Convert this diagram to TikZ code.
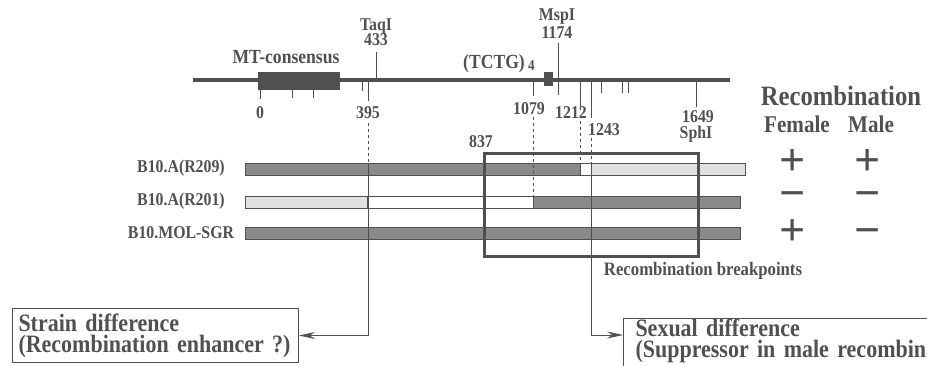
\documentclass[tikz,border=0pt]{standalone}
\usepackage{fontspec}
\setmainfont{Liberation Serif}[FakeStretch=0.88]
\newfontfamily\signfont{Liberation Serif}
\definecolor{ink}{RGB}{80, 80, 80}
\definecolor{barfill}{RGB}{138, 138, 138}
\definecolor{dotfill}{RGB}{224, 224, 224}
\usetikzlibrary{arrows.meta, positioning, calc}

\begin{document}
\begin{tikzpicture}[x=1pt, y=-1pt,
        every node/.style={text=ink, inner sep=0pt},
        site/.style={anchor=base, font=\fontsize{18}{18}\selectfont\bfseries},
        strainlbl/.style={anchor=base, font=\fontsize{18}{18}\selectfont\bfseries},
        head/.style={anchor=base, font=\fontsize{24}{24}\selectfont\bfseries},
        sign/.style={anchor=base, text height=20pt, text depth=0pt, font=\signfont\bfseries\fontsize{46}{46}\selectfont},
        tick/.style={ink, line width=1pt},
        guide/.style={ink, line width=0.8pt, dash pattern=on 3pt off 3pt},
        bar/.style={draw=ink, line width=1pt},
        note/.style={draw=ink, line width=1pt, align=left, inner xsep=6pt,
            font=\fontsize{25}{21}\selectfont\bfseries},
        arr/.style={-{Stealth[length=16pt, width=7pt]}, ink, line width=0.8pt}
    ]
        \clip (0,0) rectangle (927,365);

        % Restriction map
        \draw[ink, line width=4.5pt] (193,80) -- (730,80);
        \fill[ink] (258,72) rectangle (340,90);
        \fill[ink] (544,72) rectangle (553,86);

        % Sites above the line
        \draw[tick] (376,52) -- (376,80);
        \draw[tick] (558,43) -- (558,95);

        % Ticks below the line
        \draw[tick] (260,80) -- (260,99);
        \draw[tick] (292,80) -- (292,98);
        \draw[tick] (313,80) -- (313,98);
        \draw[tick] (362,80) -- (362,91);
        \draw[tick] (368,80) -- (368,101);
        \draw[tick] (533,80) -- (533,96);
        \draw[tick] (580,80) -- (580,110);
        \draw[tick] (591,80) -- (591,118);
        \draw[tick] (601,80) -- (601,93);
        \draw[tick] (622,80) -- (622,93);
        \draw[tick] (628,80) -- (628,93);
        \draw[tick] (696,80) -- (696,107);

        % Map labels
        \node[anchor=base, font=\fontsize{20}{20}\selectfont\bfseries] (mt) at (286,63) {MT-consensus};
        \node[site] (taq)    at (376,30) {TaqI};
        \node[site] (taqpos) at (376,45) {433};
        \node[site] (msp)    at (557,20) {MspI};
        \node[site] (msppos) at (557,38) {1174};
        \node[anchor=base west, font=\fontsize{20}{20}\selectfont\bfseries] (tctg) at (463,68)
            {(TCTG)\,\raisebox{-2pt}{\fontsize{15}{15}\selectfont 4}};
        \node[site] (l0)    at (260,118) {0};
        \node[site] (l395)  at (368,118) {395};
        \node[site] (l1079) at (529,114) {1079};
        \node[site] (l1212) at (571,118) {1212};
        \node[site] (l1243) at (604,135) {1243};
        \node[site] (l1649) at (698,122) {1649};
        \node[site] (sph)   at (696,138) {SphI};
        \node[site] (l837)  at (481,147) {837};

        % Strains
        \node[strainlbl] (rowa) at (181,172) {B10.A(R209)};
        \node[strainlbl] (rowb) at (181,205) {B10.A(R201)};
        \node[strainlbl] (rowc) at (181,238) {B10.MOL-SGR};

        % B10.A(R209)
        \fill[barfill] (245,163) rectangle (580,175);
        \fill[dotfill] (591,163) rectangle (745,175);
        \draw[bar] (245,163) rectangle (745,175);
        \draw[bar] (580,163) -- (580,175);
        \draw[bar] (591,163) -- (591,175);

        % B10.A(R201)
        \fill[dotfill] (245,196) rectangle (367,208);
        \fill[barfill] (533,196) rectangle (740,208);
        \draw[bar] (245,196) rectangle (740,208);
        \draw[bar] (367,196) -- (367,208);
        \draw[bar] (533,196) -- (533,208);

        % B10.MOL-SGR
        \fill[barfill] (245,227) rectangle (740,239);
        \draw[bar] (245,227) rectangle (740,239);

        % Dashed guides
        \draw[guide] (368,123) -- (368,163);
        \draw[guide] (533,117) -- (533,196);
        \draw[guide] (580,121) -- (580,163);
        \draw[guide] (591,138) -- (591,165);

        % Breakpoint box
        \draw[ink, line width=3pt] (484,153) rectangle (698,256);
        \node[anchor=base, font=\fontsize{19}{19}\selectfont\bfseries] (brk) at (703,275) {Recombination breakpoints};

        % Recombination table
        \node[head] (rec) at (841,105) {\fontsize{28}{28}\selectfont Recombination};
        \node[head] (fem) at (797,132) {Female};
        \node[head] (male) at (871,132) {Male};
        \node[sign] (fa) at (793,175) {+};
        \node[sign] (ma) at (868,175) {+};
        \node[sign] (fb) at (793,208) {−};
        \node[sign] (mb) at (868,208) {−};
        \node[sign] (fc) at (793,245) {+};
        \node[sign] (mc) at (868,245) {−};

        % Interpretation
        \node[note, anchor=north west, text width=274pt, minimum height=54pt] (strain) at (12,308)
            {Strain difference\\(Recombination enhancer ?)};
        \node[note, anchor=north west, inner xsep=12pt, inner ysep=0pt, text width=480pt] (sexual) at (623,318)
            {Sexual difference\\(Suppressor in male recombination)\rule[-24pt]{0pt}{24pt}};

        \coordinate (cut395) at (368,163);
        \coordinate (cut1243) at (591,175);
        \draw[arr] (cut395) |- (strain.east);
        \draw[arr] (cut1243) |- ([yshift=-17pt]sexual.north west);
    \end{tikzpicture}
\end{document}
